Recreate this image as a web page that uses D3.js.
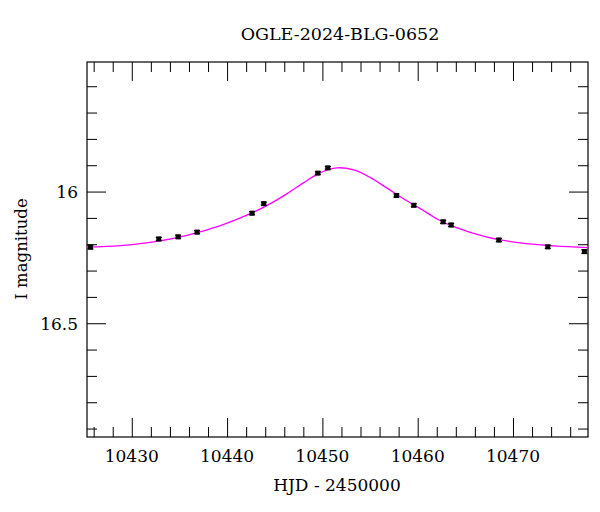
<!DOCTYPE html>
<html>
<head>
<meta charset="utf-8">
<script src="https://cdn.jsdelivr.net/npm/d3@7"></script>
<style>
  html, body { margin: 0; padding: 0; background: #fff; }
  svg { display: block; }
  text { font-family: "DejaVu Serif", "Liberation Serif", serif; fill: #000; }
</style>
</head>
<body>
<svg id="chart" width="600" height="512"></svg>
<script>
// ---- data ----
const title = "OGLE-2024-BLG-0652";
const xLabel = "HJD - 2450000";
const yLabel = "I magnitude";

const obsHJD = [10425.66, 10432.83, 10434.86, 10436.85, 10442.62, 10443.85, 10449.52,
                10450.57, 10457.77, 10459.59, 10462.67, 10463.51, 10468.51, 10473.65, 10477.49];
const obsMag = [16.211, 16.180, 16.172, 16.154, 16.082, 16.046, 15.930,
                15.910, 16.015, 16.052, 16.115, 16.127, 16.184, 16.210, 16.228];
const obsErr = [0.007, 0.006, 0.006, 0.006, 0.006, 0.006, 0.005,
                0.005, 0.006, 0.006, 0.006, 0.006, 0.006, 0.006, 0.007];

const modelHJD = [10425.31, 10428.80, 10432.31, 10435.80, 10439.30, 10442.80, 10444.54,
                  10446.30, 10448.05, 10449.79, 10451.54, 10453.29, 10455.04, 10456.79,
                  10458.54, 10460.28, 10462.04, 10463.79, 10467.28, 10470.78, 10474.28, 10477.87];
const modelMag = [16.211, 16.205, 16.191, 16.166, 16.129, 16.078, 16.046,
                  16.008, 15.966, 15.928, 15.910, 15.918, 15.947, 15.987,
                  16.028, 16.065, 16.104, 16.133, 16.173, 16.195, 16.206, 16.213];

const xTickLabels = [10430, 10440, 10450, 10460, 10470];
const yTickLabels = [16, 16.5];

// ---- layout ----
const pL = 87, pR = 588, pT = 62, pB = 437;
const svg = d3.select("#chart");

const x = d3.scaleLinear().domain([10425.3, 10477.87]).range([pL, pR]);
const y = d3.scaleLinear().domain([15.508, 16.932]).range([pT, pB]);

const majorLen = 19, minorLen = 10;
const xMinor = d3.range(10426, 10478, 2);
const yMinor = d3.range(15.6, 16.95, 0.1).map(v => +v.toFixed(2));
const xMajor = xMinor.filter(v => v % 10 === 0);
const yMajor = yMinor.filter(v => Math.abs(v * 2 - Math.round(v * 2)) < 1e-6);

const g = svg.append("g");

function addAxis(axisFn, scale, vals, len, transform) {
  const a = axisFn(scale).tickValues(vals).tickSize(-len).tickFormat("");
  const ag = g.append("g").attr("transform", transform).call(a);
  ag.select(".domain").remove();
  ag.selectAll(".tick line").attr("stroke", "#000").attr("stroke-width", 1);
}
const xMin = xMinor.filter(v => !xMajor.includes(v));
const yMin = yMinor.filter(v => !yMajor.includes(v));
addAxis(d3.axisBottom, x, xMin, minorLen, `translate(0,${pB})`);
addAxis(d3.axisBottom, x, xMajor, majorLen, `translate(0,${pB})`);
addAxis(d3.axisTop, x, xMin, minorLen, `translate(0,${pT})`);
addAxis(d3.axisTop, x, xMajor, majorLen, `translate(0,${pT})`);
addAxis(d3.axisLeft, y, yMin, minorLen, `translate(${pL},0)`);
addAxis(d3.axisLeft, y, yMajor, majorLen, `translate(${pL},0)`);
addAxis(d3.axisRight, y, yMin, minorLen, `translate(${pR},0)`);
addAxis(d3.axisRight, y, yMajor, majorLen, `translate(${pR},0)`);

g.append("rect").attr("x", pL).attr("y", pT)
  .attr("width", pR - pL).attr("height", pB - pT)
  .attr("fill", "none").attr("stroke", "#000").attr("stroke-width", 1.2);

g.selectAll(".xl").data(xTickLabels).enter().append("text")
  .attr("x", d => x(d)).attr("y", 462).attr("text-anchor", "middle")
  .attr("font-size", 17).text(d => d);
g.selectAll(".yl").data(yTickLabels).enter().append("text")
  .attr("x", 78).attr("y", d => y(d) + 6.5).attr("text-anchor", "end")
  .attr("font-size", 17).text(d => d);

svg.append("text").attr("x", 340).attr("y", 40).attr("text-anchor", "middle")
  .attr("font-size", 17.5).text(title);
svg.append("text").attr("x", 337).attr("y", 491).attr("text-anchor", "middle")
  .attr("font-size", 17).text(xLabel);
svg.append("text").attr("transform", "translate(27,249) rotate(-90)")
  .attr("text-anchor", "middle").attr("font-size", 16.5).text(yLabel);

svg.append("defs").append("clipPath").attr("id", "clip")
  .append("rect").attr("x", pL).attr("y", pT).attr("width", pR - pL).attr("height", pB - pT);

const plot = svg.append("g").attr("clip-path", "url(#clip)");

const model = modelHJD.map((t, i) => [t, modelMag[i]]);
plot.append("path").datum(model)
  .attr("d", d3.line().x(d => x(d[0])).y(d => y(d[1])).curve(d3.curveCatmullRom.alpha(0.5)))
  .attr("fill", "none").attr("stroke", "#ff00ff").attr("stroke-width", 1.3);

const obs = obsHJD.map((t, i) => ({t, m: obsMag[i], e: obsErr[i]}));
const pg = plot.selectAll(".pt").data(obs).enter().append("g");
pg.append("line").attr("x1", d => x(d.t)).attr("x2", d => x(d.t))
  .attr("y1", d => y(d.m - d.e)).attr("y2", d => y(d.m + d.e))
  .attr("stroke", "#000").attr("stroke-width", 1.2);
pg.append("line").attr("x1", d => x(d.t) - 3).attr("x2", d => x(d.t) + 3)
  .attr("y1", d => y(d.m - d.e)).attr("y2", d => y(d.m - d.e))
  .attr("stroke", "#000").attr("stroke-width", 1.2);
pg.append("line").attr("x1", d => x(d.t) - 3).attr("x2", d => x(d.t) + 3)
  .attr("y1", d => y(d.m + d.e)).attr("y2", d => y(d.m + d.e))
  .attr("stroke", "#000").attr("stroke-width", 1.2);
pg.append("rect").attr("x", d => x(d.t) - 2.5).attr("y", d => y(d.m) - 2.5)
  .attr("width", 5).attr("height", 5).attr("fill", "#000");
</script>
</body>
</html>
